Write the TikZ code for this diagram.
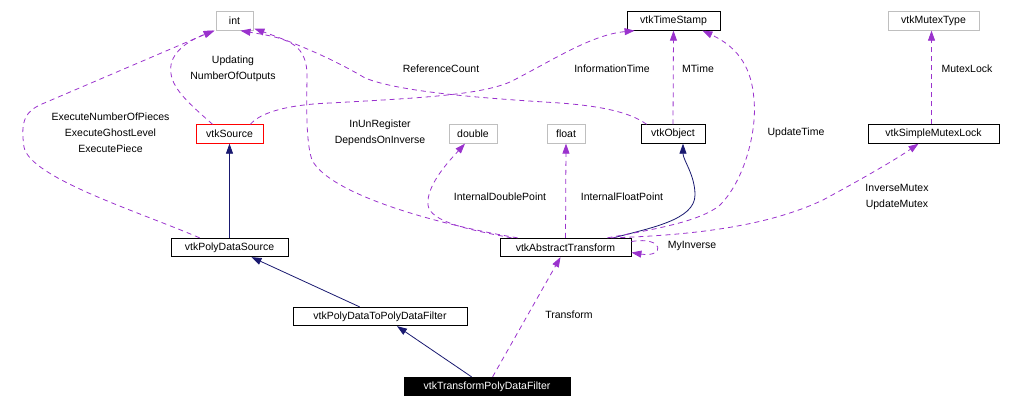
\documentclass[tikz,border=0pt]{standalone}
\usepackage{fontspec}
\setmainfont{Liberation Sans}
\usetikzlibrary{arrows.meta}
\definecolor{edgepurple}{HTML}{9A32CD}
\definecolor{edgenavy}{HTML}{191970}
\definecolor{boxgray}{HTML}{BFBFBF}
\begin{document}
\begin{tikzpicture}[x=1pt,y=-1pt,
  every node/.style={font=\fontsize{10.5}{16}\selectfont, inner sep=0pt},
  cls/.style={draw=black, line width=0.8pt, minimum height=18.5pt},
  ext/.style={cls, draw=boxgray},
  lbl/.style={align=center},
  usage/.style={draw=edgepurple, line width=0.8pt, dash pattern=on 5pt off 4pt, -{Triangle[length=10pt,width=7pt]}},
  inh/.style={draw=edgenavy, line width=0.8pt, -{Triangle[length=10pt,width=7pt]}}]
\useasboundingbox (0,0) rectangle (1012,408);

% nodes
\node[ext, minimum width=37pt] (int) at (234.5,21) {int};
\node[cls, draw=red, minimum width=67pt] (src) at (229.5,134) {vtkSource};
\node[cls, minimum width=117pt] (pds) at (229.5,247.5) {vtkPolyDataSource};
\node[cls, minimum width=174pt] (pdf) at (380,316.5) {vtkPolyDataToPolyDataFilter};
\node[cls, fill=black, text=white, minimum width=166pt] (tpdf) at (487,386.5) {vtkTransformPolyDataFilter};
\node[cls, minimum width=131pt] (abs) at (565.5,247.5) {vtkAbstractTransform};
\node[ext, minimum width=48pt] (dbl) at (473,134) {double};
\node[ext, minimum width=38pt] (flt) at (566,134) {float};
\node[cls, minimum width=64pt] (obj) at (673,134) {vtkObject};
\node[cls, minimum width=93pt] (ts) at (673.5,21) {vtkTimeStamp};
\node[ext, minimum width=91pt] (mt) at (933.5,21) {vtkMutexType};
\node[cls, minimum width=131pt] (sml) at (933.5,134) {vtkSimpleMutexLock};

% labels
\node[lbl] (l1) at (233,69) {Updating\\NumberOfOutputs};
\node[lbl] (l2) at (110.5,133) {ExecuteNumberOfPieces\\ExecuteGhostLevel\\ExecutePiece};
\node[lbl] (l3) at (380,133) {InUnRegister\\DependsOnInverse};
\node (l4) at (441,69) {ReferenceCount};
\node (l5) at (612,69) {InformationTime};
\node (l6) at (698,69) {MTime};
\node (l7) at (967,69) {MutexLock};
\node (l8) at (796,133) {UpdateTime};
\node (l9) at (500,197) {InternalDoublePoint};
\node (l10) at (622,197) {InternalFloatPoint};
\node[lbl] (l11) at (897,197) {InverseMutex\\UpdateMutex};
\node (l12) at (692,246) {MyInverse};
\node (l13) at (569,315) {Transform};

% inheritance
\draw[inh] (pds.north) -- (src.south);
\draw[inh] ([xshift=67pt]pdf.north west) -- ([xshift=22pt]pds.south);
\draw[inh] ([xshift=68pt]tpdf.north west) -- ([xshift=17pt]pdf.south);
\draw[inh] ([xshift=-18pt]abs.north east) .. controls (650,228) and (695,220) .. (695,195)
  .. controls (695,175) and (683,160) .. ([xshift=10pt]obj.south);

% usage
\draw[usage] ([xshift=17pt]src.north west) .. controls (185,100) and (168,85) .. (171,65)
  .. controls (174,48) and (195,38) .. ([xshift=-1pt]int.south west);
\draw[usage] ([xshift=29pt]pds.north west) .. controls (140,212) and (30,178) .. (24,147)
  .. controls (20,120) and (26,111) .. (42,104) -- ([xshift=-2pt]int.south west);
\draw[usage] ([xshift=18pt]abs.north west) .. controls (440,225) and (330,195) .. (312,160)
  .. controls (305,140) and (307,95) .. (307,72) .. controls (305,42) and (285,38) .. ([xshift=6pt]int.south);
\draw[usage] ([xshift=6pt]obj.north west) .. controls (630,112) and (600,106) .. (560,103)
  .. controls (480,98) and (400,92) .. (365,78) .. controls (335,60) and (300,45) .. ([xshift=1pt,yshift=2pt]int.south east);
\draw[usage] ([xshift=-13pt]src.north east) .. controls (258,115) and (280,105) .. (330,103)
  .. controls (420,98) and (480,95) .. (510,82) .. controls (550,62) and (590,35) .. ([xshift=8pt]ts.south west);
\draw[usage] (obj.north) -- (ts.south);
\draw[usage] ([xshift=-24pt]abs.north east) .. controls (650,230) and (700,222) .. (720,205)
  .. controls (745,180) and (757,130) .. (754,100) .. controls (752,70) and (740,48) .. ([xshift=-18pt]ts.south east);
\draw[usage] ([xshift=-2pt]sml.north) -- ([xshift=-2pt]mt.south);
\draw[usage] ([xshift=-20pt]abs.north east) .. controls (700,235) and (770,225) .. (823,200)
  .. controls (860,180) and (895,160) .. ([xshift=-15pt]sml.south);
\draw[usage] ([yshift=6pt]abs.east) .. controls (665,236) and (665,258) .. ([yshift=-5pt]abs.east);
\draw[usage] ([xshift=12pt]abs.north west) .. controls (470,230) and (430,222) .. (428,205)
  .. controls (426,185) and (450,160) .. ([xshift=-8pt]dbl.south);
\draw[usage] (abs.north) -- (flt.south);
\draw[usage] ([xshift=89pt]tpdf.north west) -- ([xshift=-5pt]abs.south);
\end{tikzpicture}
\end{document}
